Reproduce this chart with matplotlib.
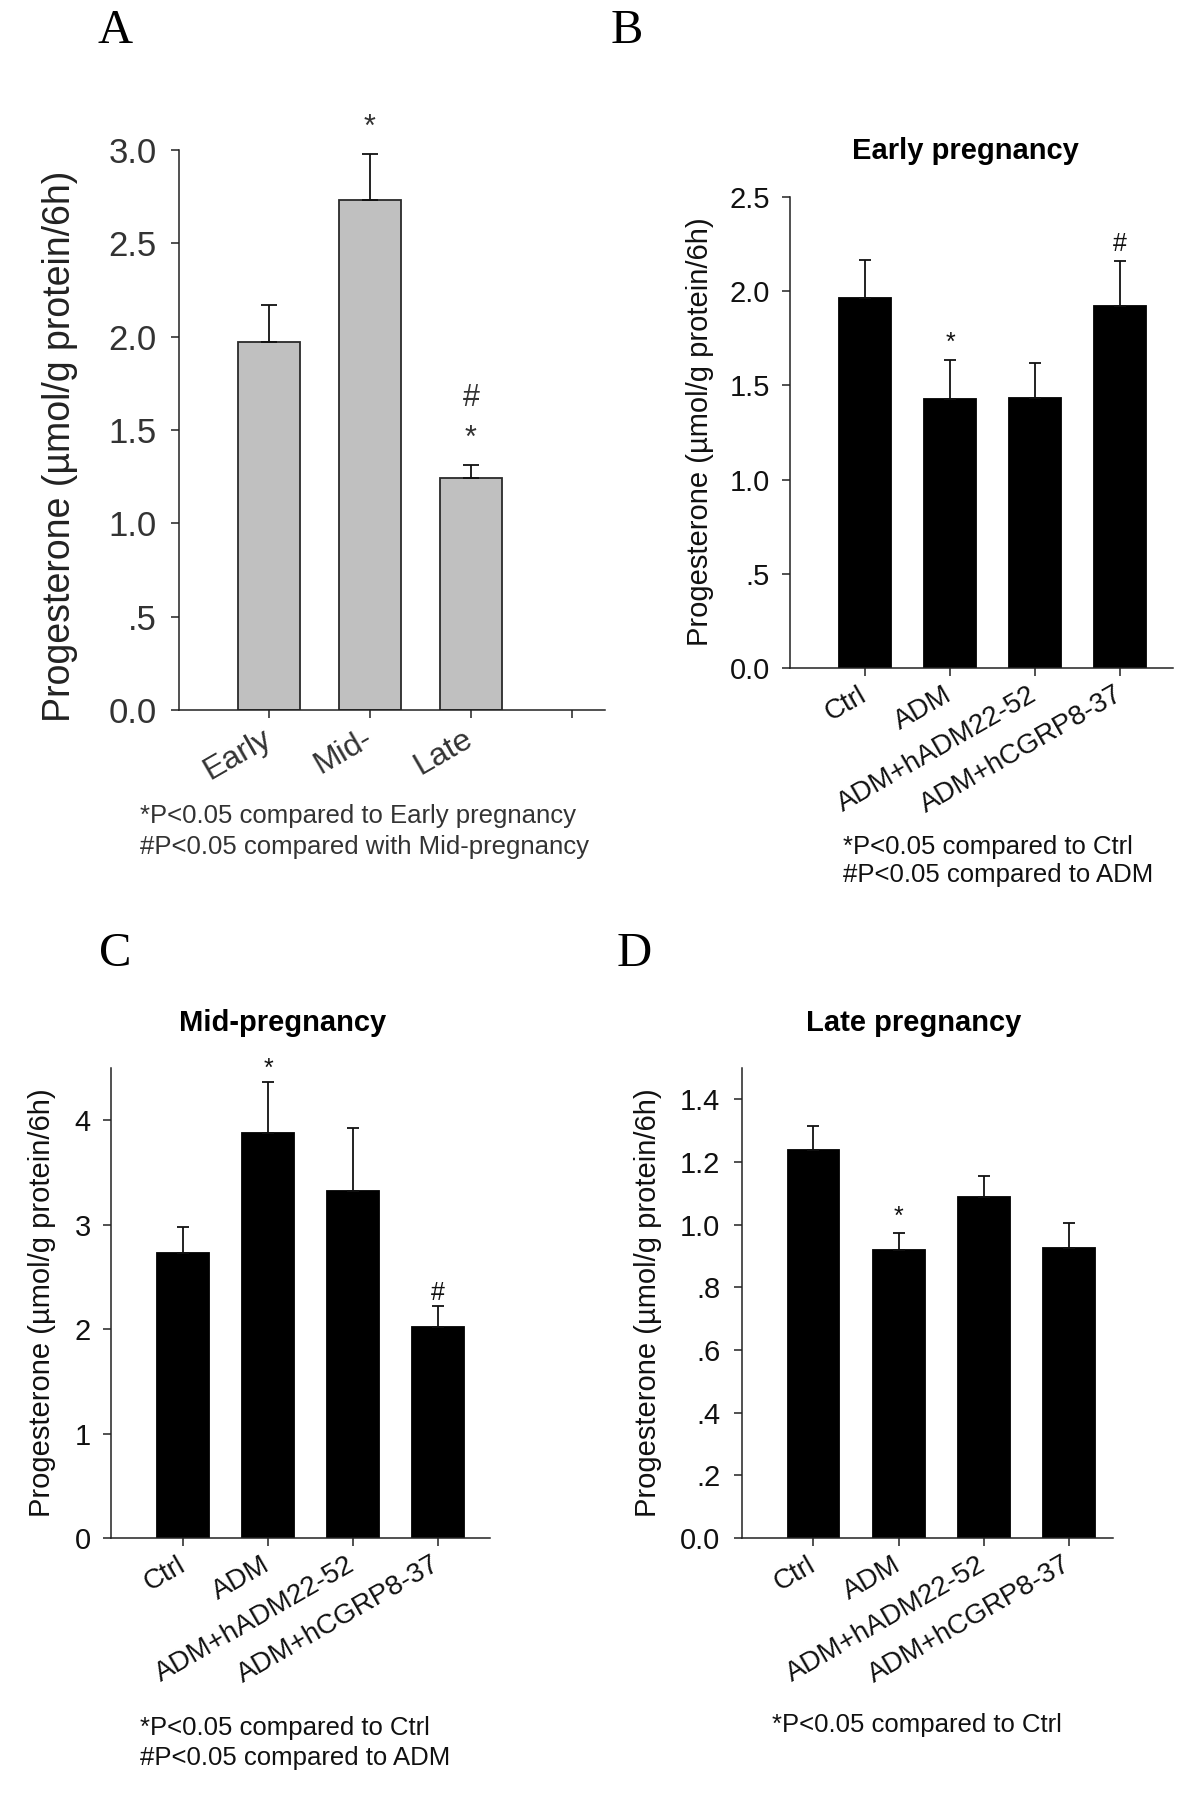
import matplotlib
matplotlib.use("Agg")
import matplotlib.pyplot as plt

plt.rcParams['font.family'] = ['Liberation Sans', 'DejaVu Sans']

W, H = 1200, 1795

# ---- data ----
stage_labels = ['Early', 'Mid-', 'Late']
stage_mean = [1.97, 2.73, 1.245]
stage_sem = [0.20, 0.25, 0.07]
stage_marks = [[], ['*'], ['*', '#']]

treat_labels = ['Ctrl', 'ADM', 'ADM+hADM22-52', 'ADM+hCGRP8-37']

early_mean = [1.963, 1.426, 1.433, 1.924]
early_sem = [0.204, 0.208, 0.187, 0.236]
early_marks = [[], ['*'], [], ['#']]

mid_mean = [2.728, 3.875, 3.318, 2.019]
mid_sem = [0.246, 0.491, 0.612, 0.207]
mid_marks = [[], ['*'], [], ['#']]

late_mean = [1.238, 0.918, 1.087, 0.927]
late_sem = [0.077, 0.057, 0.069, 0.078]
late_marks = [[], ['*'], [], []]

yt_a = [0, 0.5, 1.0, 1.5, 2.0, 2.5, 3.0]
yl_a = ['0.0', '.5', '1.0', '1.5', '2.0', '2.5', '3.0']
yt_b = [0, 0.5, 1.0, 1.5, 2.0, 2.5]
yl_b = ['0.0', '.5', '1.0', '1.5', '2.0', '2.5']
yt_c = [0, 1, 2, 3, 4]
yl_c = ['0', '1', '2', '3', '4']
yt_d = [0, 0.2, 0.4, 0.6, 0.8, 1.0, 1.2, 1.4]
yl_d = ['0.0', '.2', '.4', '.6', '.8', '1.0', '1.2', '1.4']

ylab = 'Progesterone (\u00b5mol/g protein/6h)'

fig = plt.figure(figsize=(W / 100, H / 100), dpi=100)


def box(left, top, right, bottom):
    return [left / W, 1 - bottom / H, (right - left) / W, (bottom - top) / H]


def ftext(x, y, s, **kw):
    fig.text(x / W, 1 - y / H, s, **kw)


def panel(rect, labels, mean, sem, marks, yticks, ylabels, xlim, ylim,
          face, edge, tcol, ysize, ypad, capsize, mark_size, mark_off,
          xsize=20, xpad=12, extra_ticks=0):
    ax = fig.add_axes(box(*rect))
    x = list(range(len(mean)))
    ax.bar(x, mean, width=0.61, color=face, edgecolor=edge, linewidth=1.3, zorder=2)
    ax.errorbar(x, mean, yerr=[[0] * len(mean), sem], fmt='none', ecolor='#111111',
                elinewidth=1.3, capsize=capsize, capthick=1.3, zorder=3)
    # significance marks, stacked upward from the error cap
    for i, ms in enumerate(marks):
        top = mean[i] + sem[i]
        for k, m in enumerate(ms):
            ax.annotate(m, (i, top), xytext=(0, mark_off[k]), textcoords='offset points',
                        ha='center', va='bottom', fontsize=mark_size, color=tcol)
    ax.set_xlim(xlim)
    ax.set_ylim(ylim)
    ax.set_xticks(list(range(len(mean) + extra_ticks)))
    ax.set_xticklabels(labels + [''] * extra_ticks, rotation=30, ha='right', va='center',
                       rotation_mode='anchor', fontsize=xsize, color=tcol)
    ax.set_yticks(yticks)
    ax.set_yticklabels(ylabels, fontsize=ysize, color=tcol)
    ax.tick_params(axis='x', direction='out', length=6, width=1.1, pad=xpad, colors='#222222',
                   labelcolor=tcol)
    ax.tick_params(axis='y', direction='out', length=5.5, width=1.1, pad=ypad, colors='#222222',
                   labelcolor=tcol)
    for s in ['top', 'right']:
        ax.spines[s].set_visible(False)
    for s in ['left', 'bottom']:
        ax.spines[s].set_linewidth(1.1)
        ax.spines[s].set_color('#222222')
    return ax


# A
panel((179, 150, 605, 710), stage_labels, stage_mean, stage_sem, stage_marks,
      yt_a, yl_a, (-0.888, 3.327), (0, 3.0), '#c0c0c0', '#2a2a2a', '#333333',
      25, 10.5, 5.5, 22, [8, 37], xsize=23, xpad=13, extra_ticks=1)
# B
panel((790, 197, 1173, 668), treat_labels, early_mean, early_sem, early_marks,
      yt_b, yl_b, (-0.88, 3.62), (0, 2.5), 'black', 'black', '#111111',
      21, 9, 4.5, 18, [3.5])
# C
panel((111, 1068, 490, 1538), treat_labels, mid_mean, mid_sem, mid_marks,
      yt_c, yl_c, (-0.847, 3.61), (0, 4.5), 'black', 'black', '#111111',
      21, 9, 4.5, 18, [0.5])
# D
panel((742, 1068, 1113, 1538), treat_labels, late_mean, late_sem, late_marks,
      yt_d, yl_d, (-0.84, 3.52), (0, 1.5), 'black', 'black', '#111111',
      21, 10, 4.5, 18, [2.5])

# y labels
ftext(60, 446, ylab, rotation=90, ha='center', va='center', fontsize=27, color='#222222')
ftext(700, 432, ylab, rotation=90, ha='center', va='center', fontsize=21, color='#111111')
ftext(42, 1303, ylab, rotation=90, ha='center', va='center', fontsize=21, color='#111111')
ftext(648, 1303, ylab, rotation=90, ha='center', va='center', fontsize=21, color='#111111')

# titles
ftext(965, 151, 'Early pregnancy', ha='center', va='center', fontsize=21, fontweight='bold')
ftext(283, 1023, 'Mid-pregnancy', ha='center', va='center', fontsize=21, fontweight='bold')
ftext(914, 1023, 'Late pregnancy', ha='center', va='center', fontsize=21, fontweight='bold')

# panel letters
for letter, (px, py) in zip('ABCD', [(115, 31), (627, 31), (115, 954), (634, 954)]):
    ftext(px, py, letter, ha='center', va='center', fontsize=35,
          family=['Liberation Serif', 'DejaVu Serif'])

# footnotes
notes = [
    (140, [816, 847], ['*P<0.05 compared to Early pregnancy', '#P<0.05 compared with Mid-pregnancy'], '#333333'),
    (843, [847, 875], ['*P<0.05 compared to Ctrl', '#P<0.05 compared to ADM'], '#111111'),
    (140, [1728, 1758], ['*P<0.05 compared to Ctrl', '#P<0.05 compared to ADM'], '#111111'),
    (772, [1725], ['*P<0.05 compared to Ctrl'], '#111111'),
]
for nx, ys, lines, col in notes:
    for ny, line in zip(ys, lines):
        ftext(nx, ny, line, ha='left', va='center', fontsize=18.5, color=col)

fig.savefig('out.png', dpi=100)
